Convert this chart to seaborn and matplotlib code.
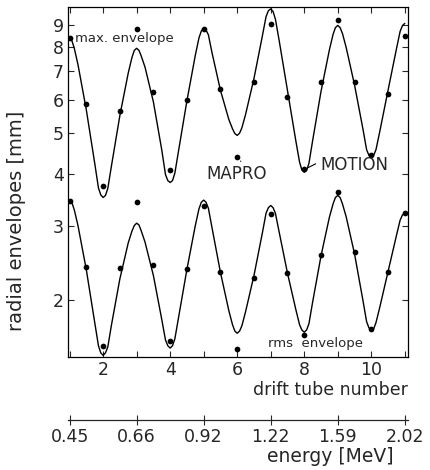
import matplotlib
matplotlib.use("Agg")
import matplotlib.pyplot as plt
import seaborn as sns
import pandas as pd

curve_x = [1, 1.07, 1.14, 1.25, 1.5, 1.75, 1.86, 1.93,
           2, 2.07, 2.14, 2.25, 2.5, 2.75, 2.86, 2.93,
           3, 3.07, 3.14, 3.25, 3.5, 3.75, 3.86, 3.93,
           4, 4.07, 4.14, 4.25, 4.5, 4.75, 4.86, 4.93,
           5, 5.07, 5.14, 5.25, 5.5, 5.75, 5.86, 5.93,
           6, 6.07, 6.14, 6.25, 6.5, 6.75, 6.86, 6.93,
           7, 7.07, 7.14, 7.25, 7.5, 7.75, 7.86, 7.93,
           8, 8.07, 8.14, 8.25, 8.5, 8.75, 8.86, 8.93,
           9, 9.07, 9.14, 9.25, 9.5, 9.75, 9.86, 9.93,
           10, 10.07, 10.14, 10.25, 10.5, 10.75, 10.86, 10.93,
           11]

# MOTION, max. envelope [mm]
max_curve = [8.38, 8.27, 7.94, 7.26, 5.66, 4.23, 3.70, 3.56,
             3.51, 3.55, 3.69, 4.18, 5.50, 6.94, 7.55, 7.85,
             7.94, 7.85, 7.60, 7.16, 5.92, 4.55, 3.98, 3.85,
             3.81, 3.85, 4.01, 4.53, 5.96, 7.64, 8.41, 8.73,
             8.85, 8.77, 8.55, 7.74, 6.31, 5.38, 5.11, 4.98,
             4.93, 4.99, 5.14, 5.53, 6.73, 8.49, 9.44, 9.75,
             9.85, 9.71, 9.31, 8.30, 6.30, 4.78, 4.26, 4.08,
             4.03, 4.07, 4.23, 4.79, 6.27, 7.87, 8.57, 8.89,
             9.00, 8.89, 8.61, 7.98, 6.50, 5.11, 4.56, 4.42,
             4.37, 4.42, 4.56, 5.02, 6.31, 7.91, 8.71, 8.99,
             9.10]

# MOTION, rms envelope [mm]
rms_curve = [3.46, 3.41, 3.28, 3.01, 2.36, 1.77, 1.56, 1.50,
             1.48, 1.50, 1.55, 1.75, 2.25, 2.74, 2.92, 3.01,
             3.05, 3.02, 2.92, 2.75, 2.29, 1.80, 1.61, 1.56,
             1.54, 1.56, 1.62, 1.82, 2.37, 3.01, 3.30, 3.42,
             3.46, 3.42, 3.31, 2.97, 2.33, 1.89, 1.75, 1.69,
             1.67, 1.69, 1.74, 1.88, 2.29, 2.89, 3.22, 3.32,
             3.36, 3.32, 3.22, 2.91, 2.32, 1.90, 1.75, 1.70,
             1.68, 1.70, 1.76, 1.98, 2.55, 3.15, 3.39, 3.51,
             3.55, 3.51, 3.39, 3.16, 2.58, 2.00, 1.78, 1.72,
             1.70, 1.71, 1.77, 1.92, 2.34, 2.85, 3.10, 3.19,
             3.22]

# MAPRO points
dot_x = [1, 1.5, 2, 2.5, 3, 3.5, 4, 4.5, 5, 5.5, 6,
         6.5, 7, 7.5, 8, 8.5, 9, 9.5, 10, 10.5, 11]
max_dots = [8.40, 5.84, 3.73, 5.62, 8.80, 6.24, 4.07, 6.00, 8.80, 6.34, 4.37,
            6.59, 9.05, 6.07, 4.10, 6.59, 9.25, 6.59, 4.42, 6.17, 8.48]
rms_dots = [3.44, 2.40, 1.56, 2.39, 3.42, 2.42, 1.60, 2.37, 3.35, 2.34, 1.53,
            2.26, 3.20, 2.32, 1.65, 2.56, 3.62, 2.61, 1.71, 2.34, 3.22]

y_ticks = [2, 3, 4, 5, 6, 7, 8, 9]
tube_ticks = [2, 4, 6, 8, 10]
energy_pos = [1, 3, 5, 7, 9, 11]
energy_labels = ["0.45", "0.66", "0.92", "1.22", "1.59", "2.02"]

sns.set_style("white")
plt.rcParams["font.family"] = ["DejaVu Sans"]

curves = pd.DataFrame({"x": curve_x + curve_x,
                       "y": max_curve + rms_curve,
                       "env": ["max"] * len(curve_x) + ["rms"] * len(curve_x)})
dots = pd.DataFrame({"x": dot_x + dot_x,
                     "y": max_dots + rms_dots,
                     "env": ["max"] * len(dot_x) + ["rms"] * len(dot_x)})

fig = plt.figure(figsize=(4.31, 4.70), dpi=100)
ax = fig.add_axes([0.158, 0.240, 0.789, 0.745])

sns.lineplot(data=curves, x="x", y="y", units="env", estimator=None,
             color="black", linewidth=1.0, ax=ax)
sns.scatterplot(data=dots, x="x", y="y", color="black", s=17,
                edgecolor="black", linewidth=0, ax=ax, zorder=3)

ax.set_yscale("log")
ax.set_xlim(0.955, 11.1)
ax.set_ylim(1.465, 9.95)
ax.set_yticks(y_ticks)
ax.set_yticklabels([str(t) for t in y_ticks])
ax.yaxis.set_minor_locator(matplotlib.ticker.NullLocator())
ax.set_xticks(range(1, 12))
ax.set_xticklabels(["" if t not in tube_ticks else str(t) for t in range(1, 12)])
ax.tick_params(direction="in", length=4, width=0.8, labelsize=12.5,
               bottom=True, left=True, top=True, right=True, pad=3)
for s in ax.spines.values():
    s.set_linewidth(0.9)
    s.set_color("black")

ax.set_xlabel("")
ax.set_ylabel("radial envelopes [mm]", fontsize=14)
ax.yaxis.set_label_coords(-0.124, 0.39)
ax.text(1.0, -0.068, "drift tube number", transform=ax.transAxes,
        ha="right", va="top", fontsize=12.5)

ax.text(1.16, 8.38, "max. envelope", fontsize=9.5, va="center", ha="left")
ax.text(6.93, 1.58, "rms  envelope", fontsize=9.5, va="center", ha="left")
ax.annotate("MAPRO", xy=(6.03, 4.32), xytext=(5.98, 4.0),
            ha="center", va="center", fontsize=12,
            arrowprops=dict(arrowstyle="-", lw=0.8, color="black",
                            relpos=(0.65, 1.0), shrinkA=0, shrinkB=2))
ax.annotate("MOTION", xy=(8.08, 4.12), xytext=(9.49, 4.19),
            ha="center", va="center", fontsize=12,
            arrowprops=dict(arrowstyle="-", lw=0.8, color="black",
                            relpos=(0.0, 0.7), shrinkA=1, shrinkB=1))

# energy scale below
ax2 = fig.add_axes([0.158, 0.106, 0.789, 0.0001])
ax2.set_xlim(0.955, 11.1)
ax2.set_yticks([])
for side in ["top", "left", "right"]:
    ax2.spines[side].set_visible(False)
ax2.spines["bottom"].set_linewidth(0.9)
ax2.set_xticks(energy_pos)
ax2.set_xticklabels(energy_labels)
ax2.tick_params(axis="x", bottom=True, direction="inout", length=7, width=0.8,
                labelsize=12.5, pad=2)
ax2.set_xlabel("energy [MeV]", fontsize=13.5, labelpad=1)
ax2.xaxis.label.set_position((0.77, 0))

fig.savefig("out.png", dpi=100)
